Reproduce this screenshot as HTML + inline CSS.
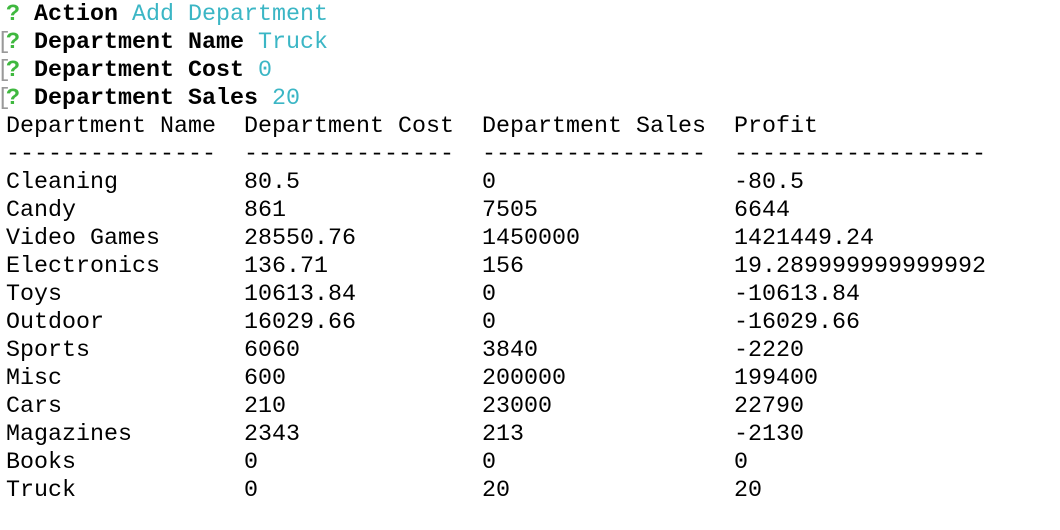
<!DOCTYPE html>
<html><head><meta charset="utf-8"><style>
html,body{margin:0;padding:0;background:#fff;width:1060px;height:530px;overflow:hidden}
pre{position:absolute;left:6px;top:1px;margin:0;font-family:"Liberation Mono",monospace;font-size:23.33px;line-height:28px;color:#000}
.q{color:#3fb83f;font-weight:bold}
.b{font-weight:bold}
.c{color:#3bb6c5}
.br{position:absolute;left:-3px;color:#999;font-family:"Liberation Mono",monospace;font-size:23.33px;line-height:28px}
</style></head><body>
<div class="br" style="top:29px">[</div>
<div class="br" style="top:57px">[</div>
<div class="br" style="top:85px">[</div>
<pre><span><span class="q">?</span> <span class="b">Action</span> <span class="c">Add Department</span></span>
<span><span class="q">?</span> <span class="b">Department Name</span> <span class="c">Truck</span></span>
<span><span class="q">?</span> <span class="b">Department Cost</span> <span class="c">0</span></span>
<span><span class="q">?</span> <span class="b">Department Sales</span> <span class="c">20</span></span>
<span>Department Name  Department Cost  Department Sales  Profit</span>
<span>---------------  ---------------  ----------------  ------------------</span>
<span>Cleaning         80.5             0                 -80.5</span>
<span>Candy            861              7505              6644</span>
<span>Video Games      28550.76         1450000           1421449.24</span>
<span>Electronics      136.71           156               19.289999999999992</span>
<span>Toys             10613.84         0                 -10613.84</span>
<span>Outdoor          16029.66         0                 -16029.66</span>
<span>Sports           6060             3840              -2220</span>
<span>Misc             600              200000            199400</span>
<span>Cars             210              23000             22790</span>
<span>Magazines        2343             213               -2130</span>
<span>Books            0                0                 0</span>
<span>Truck            0                20                20</span></pre>
</body></html>
